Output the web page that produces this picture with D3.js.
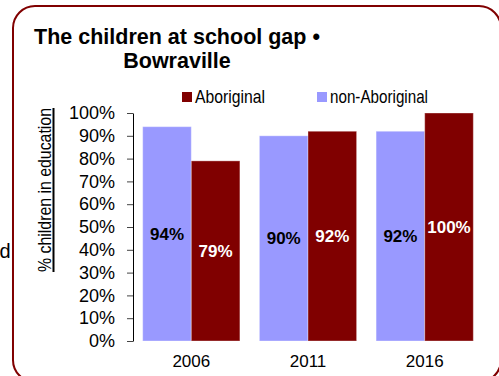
<!DOCTYPE html>
<html>
<head>
<meta charset="utf-8">
<script src="https://cdn.jsdelivr.net/npm/d3@7"></script>
<style>
  html, body { margin: 0; padding: 0; background: #fff; }
  svg { display: block; }
  text { font-family: "Liberation Sans", Arial, Helvetica, sans-serif; }
</style>
</head>
<body>
<svg id="chart" width="499" height="376"></svg>
<script>
// Census years and share of children in education (%)
const years = ["2006", "2011", "2016"];
const nonAboriginal = [94, 90, 92];
const aboriginal = [79, 92, 100];
const yTicks = [0, 10, 20, 30, 40, 50, 60, 70, 80, 90, 100];

const seriesNames = ["non-Aboriginal", "Aboriginal"];
const seriesColors = { "non-Aboriginal": "#9999ff", "Aboriginal": "#800000" };
const labelColors = { "non-Aboriginal": "#000", "Aboriginal": "#fff" };

const svg = d3.select("#chart");

// Rounded frame, running off the right and bottom edges
svg.append("rect")
  .attr("x", 13).attr("y", 6)
  .attr("width", 488).attr("height", 376)
  .attr("rx", 22).attr("ry", 22)
  .attr("fill", "none")
  .attr("stroke", "#800000")
  .attr("stroke-width", 2);

// Stray letter outside the frame on the left
svg.append("text")
  .attr("x", 10.5).attr("y", 258)
  .attr("text-anchor", "end")
  .attr("font-size", 20)
  .attr("fill", "#000")
  .text("d");

// Title
const title = svg.append("text")
  .attr("text-anchor", "middle")
  .attr("font-weight", "bold")
  .attr("font-size", 21.5)
  .attr("fill", "#000");
title.append("tspan").attr("x", 177).attr("y", 44).text("The children at school gap •");
title.append("tspan").attr("x", 177).attr("y", 68).text("Bowraville");

// Scales
const x0 = d3.scaleBand().domain(years).range([133, 483]).paddingInner(0.167).paddingOuter(0.083);
const x1 = d3.scaleBand().domain(seriesNames).range([0, x0.bandwidth()]);
const y = d3.scaleLinear().domain([0, 100]).range([341, 113]);

// Y axis
const yAxis = svg.append("g")
  .attr("transform", "translate(133,0)")
  .call(d3.axisLeft(y).tickValues(yTicks).tickFormat(d => d + "%").tickSize(6).tickPadding(12).tickSizeOuter(0));
yAxis.select(".domain").attr("stroke", "#000").attr("stroke-width", 1);
yAxis.selectAll(".tick line").attr("stroke", "#444");
yAxis.selectAll(".tick text")
  .attr("font-family", "'Liberation Sans', Arial, sans-serif")
  .attr("font-size", 18)
  .attr("fill", "#000");

// Y axis title (rotated, underlined)
const yTitleX = 51, yTitleY = 190, yTitleLen = 164;
svg.append("text")
  .attr("transform", `translate(${yTitleX},${yTitleY}) rotate(-90)`)
  .attr("text-anchor", "middle")
  .attr("font-size", 19)
  .attr("textLength", yTitleLen)
  .attr("lengthAdjust", "spacingAndGlyphs")
  .attr("fill", "#000")
  .text("% children in education");
svg.append("line")
  .attr("x1", yTitleX + 2.5).attr("x2", yTitleX + 2.5)
  .attr("y1", yTitleY - yTitleLen / 2).attr("y2", yTitleY + yTitleLen / 2)
  .attr("stroke", "#000").attr("stroke-width", 2);

// Bars
const rows = years.map((yr, i) => ({
  year: yr,
  values: [
    { key: "non-Aboriginal", value: nonAboriginal[i] },
    { key: "Aboriginal", value: aboriginal[i] }
  ]
}));

const groups = svg.append("g").selectAll("g")
  .data(rows).join("g")
  .attr("transform", d => `translate(${x0(d.year)},0)`);

groups.selectAll("rect")
  .data(d => d.values).join("rect")
  .attr("x", d => x1(d.key))
  .attr("y", d => y(d.value))
  .attr("width", x1.bandwidth())
  .attr("height", d => y(0) - y(d.value))
  .attr("fill", d => seriesColors[d.key])
  .attr("stroke", "rgba(255,255,255,0.35)")
  .attr("stroke-width", 1);

// Value labels, centred inside each bar
groups.selectAll("text.val")
  .data(d => d.values).join("text")
  .attr("class", "val")
  .attr("x", d => x1(d.key) + x1.bandwidth() / 2)
  .attr("y", d => (y(d.value) + y(0)) / 2)
  .attr("dy", "0.35em")
  .attr("text-anchor", "middle")
  .attr("font-weight", "bold")
  .attr("font-size", 17)
  .attr("fill", d => labelColors[d.key])
  .text(d => d.value + "%");

// Category labels
svg.append("g").selectAll("text")
  .data(years).join("text")
  .attr("x", d => x0(d) + x0.bandwidth() / 2)
  .attr("y", 367)
  .attr("text-anchor", "middle")
  .attr("font-size", 17)
  .attr("fill", "#000")
  .text(d => d);

// Legend
const legendItems = [
  { key: "Aboriginal", sx: 182, tx: 195, len: 70 },
  { key: "non-Aboriginal", sx: 317, tx: 330, len: 98 }
];
const legend = svg.append("g").selectAll("g").data(legendItems).join("g");
legend.append("rect")
  .attr("x", d => d.sx).attr("y", 92)
  .attr("width", 10).attr("height", 10)
  .attr("fill", d => seriesColors[d.key]);
legend.append("text")
  .attr("x", d => d.tx).attr("y", 102.5)
  .attr("font-size", 19)
  .attr("textLength", d => d.len)
  .attr("lengthAdjust", "spacingAndGlyphs")
  .attr("fill", "#000")
  .text(d => d.key);
</script>
</body>
</html>
